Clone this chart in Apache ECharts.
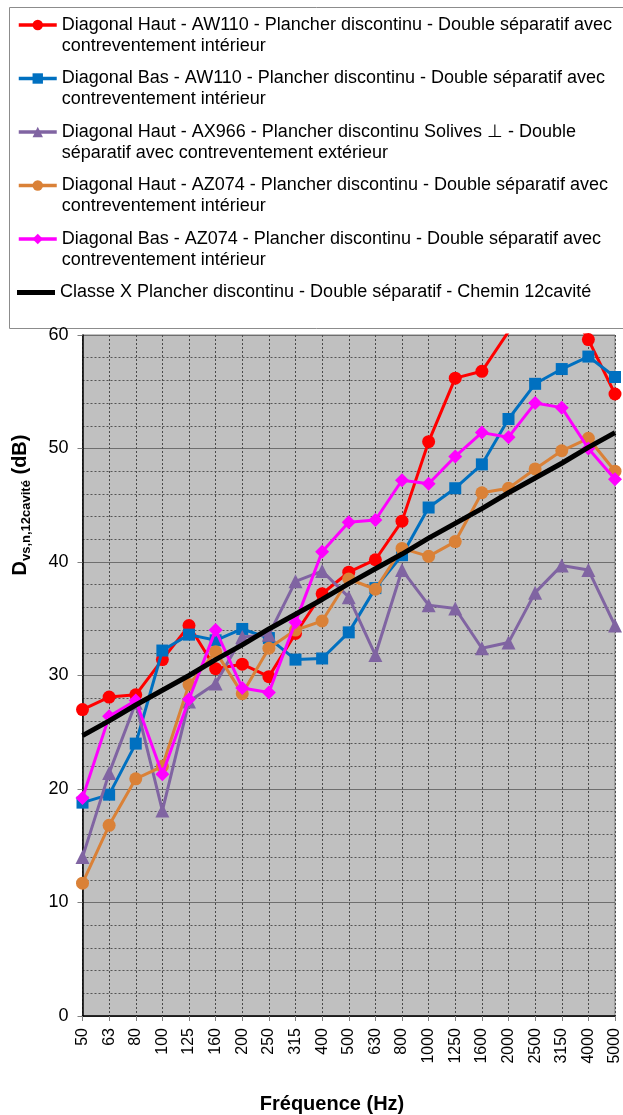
<!DOCTYPE html>
<html>
<head>
<meta charset="utf-8">
<script src="https://cdn.jsdelivr.net/npm/echarts@6/dist/echarts.min.js"></script>
<style>
html,body{margin:0;padding:0;background:#fff;}
#c{width:623px;height:1115px;}
</style>
</head>
<body>
<div id="c"></div>
<script>
const categories = ['50','63','80','100','125','160','200','250','315','400','500','630','800','1000','1250','1600','2000','2500','3150','4000','5000'];

const seriesNames = [
  'Diagonal Haut - AW110 - Plancher discontinu - Double séparatif avec contreventement intérieur',
  'Diagonal Bas - AW110 - Plancher discontinu - Double séparatif avec contreventement intérieur',
  'Diagonal Haut - AX966 - Plancher discontinu Solives ⊥ - Double séparatif avec contreventement extérieur',
  'Diagonal Haut - AZ074 - Plancher discontinu - Double séparatif avec contreventement intérieur',
  'Diagonal Bas - AZ074 - Plancher discontinu - Double séparatif avec contreventement intérieur',
  'Classe X Plancher discontinu - Double séparatif - Chemin 12cavité'
];
const legendLines = [
  ['Diagonal Haut - AW110 - Plancher discontinu - Double séparatif avec', 'contreventement intérieur'],
  ['Diagonal Bas - AW110 - Plancher discontinu - Double séparatif avec', 'contreventement intérieur'],
  ['Diagonal Haut - AX966 - Plancher discontinu Solives ⊥ - Double', 'séparatif avec contreventement extérieur'],
  ['Diagonal Haut - AZ074 - Plancher discontinu - Double séparatif avec', 'contreventement intérieur'],
  ['Diagonal Bas - AZ074 - Plancher discontinu - Double séparatif avec', 'contreventement intérieur'],
  ['Classe X Plancher discontinu - Double séparatif - Chemin 12cavité']
];

const hautAW110 = [27.0, 28.1, 28.3, 31.4, 34.4, 30.6, 31.0, 29.9, 33.7, 37.2, 39.1, 40.2, 43.6, 50.6, 56.2, 56.8, 60.3, 62.5, 63.5, 59.6, 54.8];
const basAW110  = [18.8, 19.5, 24.0, 32.2, 33.6, 33.1, 34.1, 33.3, 31.4, 31.5, 33.8, 37.7, 40.6, 44.8, 46.5, 48.6, 52.6, 55.7, 57.0, 58.1, 56.3];
const hautAX966 = [14.0, 21.4, 27.6, 18.1, 27.7, 29.3, 33.4, 33.6, 38.3, 39.2, 36.9, 31.8, 39.3, 36.2, 35.9, 32.4, 32.9, 37.3, 39.7, 39.3, 34.4];
const hautAZ074 = [11.7, 16.8, 20.9, 22.0, 29.2, 32.1, 28.4, 32.4, 34.0, 34.8, 38.5, 37.6, 41.2, 40.5, 41.8, 46.1, 46.5, 48.2, 49.8, 50.9, 48.0];
const basAZ074  = [19.2, 26.4, 27.8, 21.3, 27.9, 34.0, 28.9, 28.5, 34.7, 40.9, 43.5, 43.7, 47.2, 46.9, 49.3, 51.4, 51.0, 54.0, 53.6, 50.0, 47.3];
const classeX   = [24.7, 26.0, 27.4, 28.7, 30.0, 31.4, 32.7, 34.1, 35.4, 36.7, 38.1, 39.4, 40.7, 42.1, 43.4, 44.7, 46.1, 47.4, 48.7, 50.1, 51.4];

const yTicks = {min: 0, max: 60, interval: 10};

const FONT = '"Liberation Sans", Arial, sans-serif';
const colors = ['#FF0000', '#0070C0', '#8064A2', '#DA8137', '#FF00FF', '#000000'];
const symbols = ['circle', 'rect', 'triangle', 'circle', 'diamond', 'none'];
const symbolSizes = [13, 12, 14, 13, 14, 0];
const dataSets = [hautAW110, basAW110, hautAX966, hautAZ074, basAZ074, classeX];

const series = dataSets.map((d, i) => ({
  name: seriesNames[i],
  type: 'line',
  data: d,
  symbol: symbols[i],
  symbolSize: symbolSizes[i],
  clip: true,
  lineStyle: {color: colors[i], width: i === 5 ? 5 : 3},
  itemStyle: {color: colors[i]},
  emphasis: {disabled: true},
  animation: false,
  z: 2 + i
}));

const centers = [25, 78.5, 132, 185.5, 239, 292.5];
const legends = seriesNames.map((n, i) => {
  const two = legendLines[i].length > 1;
  return {
    data: [i === 5 ? {name: n, icon: 'rect'} : n],
    orient: 'vertical',
    left: 17,
    top: two ? centers[i] - 31.5 : centers[i] - 10.5,
    padding: 0,
    itemWidth: 38,
    itemHeight: i === 5 ? 5 : 13,
    selectedMode: false,
    lineStyle: {width: 3.5},
    formatter: () => (two ? ' \n' : '') + legendLines[i].join('\n'),
    textStyle: {fontSize: 18, lineHeight: 21, color: '#000', fontFamily: FONT}
  };
});

const chart = echarts.init(document.getElementById('c'), null, {renderer: 'canvas'});
chart.setOption({
  animation: false,
  backgroundColor: '#fff',
  textStyle: {fontFamily: FONT},
  legend: legends,
  grid: {left: 82.5, right: 4.5, top: 335, bottom: 99, show: true, backgroundColor: '#C0C0C0', borderColor: '#808080', borderWidth: 1},
  xAxis: {
    type: 'category',
    data: categories,
    boundaryGap: false,
    axisLine: {lineStyle: {color: '#000', width: 1.5}},
    axisTick: {show: true, length: 5, interval: 0, lineStyle: {color: '#808080'}},
    axisLabel: {rotate: 90, interval: 0, fontSize: 16, color: '#000', margin: 12, fontFamily: FONT},
    splitLine: {show: true, interval: 0, lineStyle: {color: '#4a4a4a', type: [2, 2], width: 1}}
  },
  yAxis: {
    type: 'value',
    min: yTicks.min, max: yTicks.max, interval: yTicks.interval,
    axisLine: {show: true, lineStyle: {color: '#000', width: 1.5}},
    axisTick: {show: true, length: 5, lineStyle: {color: '#808080'}},
    axisLabel: {fontSize: 18, color: '#000', margin: 14, fontFamily: FONT},
    splitLine: {show: true, lineStyle: {color: '#6e6e6e', width: 1}},
    minorTick: {show: false, splitNumber: 5},
    minorSplitLine: {show: true, lineStyle: {color: '#555', type: [2, 2], width: 1}}
  },
  graphic: [
    {type: 'rect', z: -10, silent: true, shape: {x: 9.5, y: 7.5, width: 700, height: 321}, style: {fill: 'none', stroke: '#8c8c8c', lineWidth: 1}},
    {type: 'text', x: 20, y: 505, rotation: Math.PI / 2, silent: true,
      style: {
        text: '{d|D}{s|vs,n,12cavité}{d| (dB)}',
        align: 'center', verticalAlign: 'middle',
        rich: {
          d: {fontSize: 20, fontWeight: 'bold', fontFamily: FONT, lineHeight: 26, fill: '#000'},
          s: {fontSize: 13, fontWeight: 'bold', fontFamily: FONT, lineHeight: 14, verticalAlign: 'bottom', fill: '#000'}
        }
      }},
    {type: 'text', x: 332, y: 1104, silent: true,
      style: {text: 'Fréquence (Hz)', fontSize: 20, fontWeight: 'bold', fontFamily: FONT, fill: '#000', align: 'center', verticalAlign: 'middle'}}
  ],
  series: series
});
</script>
</body>
</html>
